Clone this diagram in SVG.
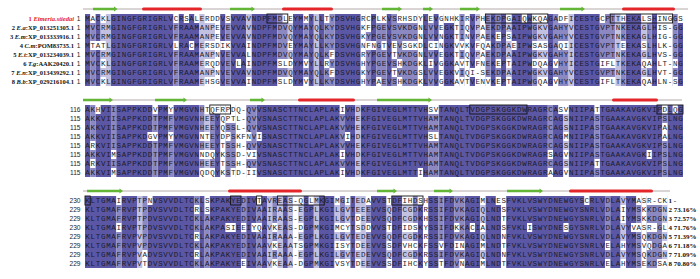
<svg xmlns="http://www.w3.org/2000/svg" width="700" height="279" viewBox="0 0 700 279">
<style>
.d{fill:#5b57a5}.m{fill:#8b88c2}.l{fill:#c3c1e1}.w{fill:#ffffff}
.s{font-family:"Liberation Mono","DejaVu Sans Mono",monospace;font-size:7.5px;letter-spacing:0.7px;fill:#1c1c2a}
.lab{font-family:"Liberation Serif","Times New Roman",serif;font-size:6.5px;font-weight:bold;fill:#111;text-anchor:end}
.red{fill:#e4201f}
.num{font-family:"Liberation Sans",Arial,sans-serif;font-size:6.6px;fill:#222;text-anchor:end}
.pct{font-family:"Liberation Serif","Times New Roman",serif;font-size:7px;font-weight:bold;fill:#111}
.rl{stroke:#b4a9a9;stroke-width:1}
.hx{stroke:#e4262b;stroke-width:3;stroke-linecap:round}
.st{fill:#62b535}
.bx{fill:none;stroke:#111;stroke-width:0.9}
</style>
<rect width="700" height="279" fill="#fff"/>

<g id="ss-rulers">
<line class="rl" x1="83" y1="9" x2="688" y2="9"/>
<path class="st" d="M93 7.8H114V6.6L117.5 9L114 11.4V10.2H93Z M230 7.8H251.5V6.6L255 9L251.5 11.4V10.2H230Z M382 7.8H398.5V6.6L402 9L398.5 11.4V10.2H382Z M423 7.8H429.5V6.6L433 9L429.5 11.4V10.2H423Z M460 7.8H476.5V6.6L480 9L476.5 11.4V10.2H460Z M560 7.8H581.5V6.6L585 9L581.5 11.4V10.2H560Z"/>
<line class="hx" x1="143.5" y1="9" x2="200.5" y2="9"/>
<line class="hx" x1="283.5" y1="9" x2="331.5" y2="9"/>
<line class="hx" x1="623.5" y1="9" x2="673.5" y2="9"/>

<line class="rl" x1="83" y1="100" x2="682" y2="100"/>
<path class="st" d="M83 98.8H109.5V97.6L113 100L109.5 102.4V101.2H83Z M155 98.8H183.5V97.6L187 100L183.5 102.4V101.2H155Z M250 98.8H261.5V97.6L265 100L261.5 102.4V101.2H250Z M377 98.8H428.5V97.6L432 100L428.5 102.4V101.2H377Z"/>
<line class="hx" x1="299.5" y1="100" x2="353.5" y2="100"/>
<line class="hx" x1="613.5" y1="100" x2="656.5" y2="100"/>

<line class="rl" x1="83" y1="191" x2="670" y2="191"/>
<path class="st" d="M87 189.8H119.5V188.6L123 191L119.5 193.4V192.2H87Z M377 189.8H393.5V188.6L397 191L393.5 193.4V192.2H377Z M434 189.8H449.5V188.6L453 191L449.5 193.4V192.2H434Z M507 189.8H539.5V188.6L543 191L539.5 193.4V192.2H507Z"/>
<line class="hx" x1="229.5" y1="191" x2="300.5" y2="191"/>
<line class="hx" x1="570.5" y1="191" x2="651.5" y2="191"/>
</g>

<g id="block1">
<g transform="translate(85,14) scale(5.2,9)">
<path class="d" d="M0 0h1v8h-1z M2 0h1v8h-1z M5 0h12v8h-12z M18 0h4v8h-4z M26 0h1v8h-1z M28 0h3v8h-3z M32 0h5v8h-5z M40 0h2v8h-2z M43 0h1v8h-1z M45 0h1v8h-1z M48 0h5v8h-5z M55 0h1v8h-1z M58 0h1v8h-1z M65 0h1v8h-1z M67 0h1v8h-1z M69 0h2v8h-2z M74 0h1v8h-1z M78 0h1v8h-1z M80 0h1v8h-1z M82 0h4v8h-4z M89 0h1v8h-1z M94 0h5v8h-5z M104 0h3v8h-3z M109 0h1v8h-1z M114 0h1v8h-1z"/>
<path class="m" d="M1 0h1v8h-1z M17 0h1v8h-1z M27 0h1v8h-1z M37 0h2v8h-2z M42 0h1v8h-1z M46 0h2v8h-2z M54 0h1v8h-1z M56 0h2v8h-2z M59 0h5v8h-5z M66 0h1v8h-1z M72 0h1v8h-1z M77 0h1v8h-1z M79 0h1v8h-1z M86 0h1v8h-1z M90 0h3v8h-3z M99 0h3v8h-3z M103 0h1v8h-1z M108 0h1v8h-1z M113 0h1v8h-1z"/>
<path class="l" d="M3 0h2v8h-2z M22 0h3v8h-3z M31 0h1v8h-1z M39 0h1v8h-1z M44 0h1v8h-1z M75 0h1v8h-1z M81 0h1v8h-1z M87 0h2v8h-2z M93 0h1v8h-1z M102 0h1v8h-1z M107 0h1v8h-1z"/>
<path class="w" d="M1 0h1v1h-1z M1 3h1v1h-1z M2 3h1v1h-1z M3 0h1v1h-1z M3 3h1v1h-1z M3 5h1v1h-1z M3 7h1v1h-1z M17 0h1v1h-1z M17 3h1v1h-1z M19 0h1v1h-1z M20 3h1v1h-1z M21 0h1v1h-1z M23 0h2v1h-2z M23 3h2v1h-2z M23 5h2v1h-2z M23 7h2v1h-2z M26 3h1v1h-1z M27 0h1v1h-1z M27 3h1v1h-1z M29 5h1v1h-1z M31 3h1v3h-1z M31 7h1v1h-1z M37 5h3v1h-3z M37 7h3v1h-3z M38 0h2v1h-2z M39 3h1v1h-1z M42 0h1v1h-1z M42 5h1v1h-1z M42 7h1v1h-1z M46 0h1v1h-1z M46 5h1v1h-1z M47 4h1v1h-1z M47 6h1v1h-1z M54 0h1v2h-1z M54 3h1v1h-1z M55 3h1v1h-1z M56 0h1v1h-1z M56 7h1v1h-1z M57 0h1v1h-1z M57 3h1v1h-1z M59 3h1v2h-1z M59 6h1v1h-1z M60 0h1v1h-1z M60 5h1v1h-1z M60 7h1v1h-1z M61 0h3v1h-3z M61 3h3v1h-3z M66 0h1v1h-1z M66 3h1v1h-1z M66 5h1v1h-1z M67 3h1v1h-1z M69 0h2v1h-2z M72 3h1v1h-1z M72 5h1v1h-1z M72 7h1v1h-1z M74 6h1v1h-1z M75 3h1v1h-1z M75 5h1v3h-1z M77 3h1v1h-1z M77 7h1v1h-1z M79 2h1v1h-1z M79 5h1v1h-1z M79 7h1v1h-1z M81 0h1v1h-1z M81 2h1v1h-1z M81 5h1v1h-1z M81 7h1v1h-1z M82 3h1v1h-1z M84 0h1v1h-1z M86 0h3v1h-3z M86 3h3v1h-3z M86 5h3v1h-3z M87 7h2v1h-2z M90 5h1v1h-1z M90 7h1v1h-1z M91 0h2v1h-2z M91 3h2v1h-2z M99 0h1v1h-1z M99 5h3v1h-3z M99 7h3v1h-3z M103 0h1v1h-1z M103 3h1v1h-1z M107 0h2v1h-2z M107 3h1v1h-1z M107 5h2v1h-2z M107 7h2v1h-2z M113 5h1v1h-1z M113 7h1v1h-1z M114 0h1v1h-1z"/>
</g>
<text class="s" x="85.35" y="21.2">MACKLGINGFGRIGRLVCRSALERDDVSVVAVNDPFMDLEYMMYLLTYDSVHGRCPLKVSRHSDYLEVGNHKIRVPHEKDPGAIQWKQAGADFICESTGCPTTHEKALSHINGGS</text>
<text class="s" x="85.35" y="30.2">MVCRMGINGFGRIGRLVFRAAMANPEVEVVAVNDPFMDVQYMAYQLKYDSVHGKFPGEVSVKDGNLVVEGKTIQVPAEKDPAAIPWGKVGAHYVCESTGVPTNKEKAGLHIS-GG</text>
<text class="s" x="85.35" y="39.2">MVCRMGINGFGRIGRLVFRAAMANPEVEVVAVNDPFMDVQYMAYQLKYDSVHGKYPGEVSVKDGNLVVNGKTINVPAEKEPSAIPWGKVGAHYVCESTGVPTNKEKAGLHIG-GG</text>
<text class="s" x="85.35" y="48.2">MTATLGINGFGRIGRLVLRACMERSDIKVVAINDPFMDVEYMAYLLKYDSVHGNFNGTVEVSGKDLCINGKVVKVFQAKDPAEIPWSASGAQIICESTGVPTTEEKASLHLK-GG</text>
<text class="s" x="85.35" y="57.2">MVCRMGINGFGRIGRLVFRAAMANPNVEVVALNDPFMDVQYMAYQLKFDSVHGRYPGEVTVKDGNLVVEGKTIQVPAEKDPAAIPWGKVGAHYICESTGVPTNKEKAGLHVS-GG</text>
<text class="s" x="85.35" y="66.2">MVCKLGINGFGRIGRLVFRAAMERQDVEVLAINDPFMSLDYMVYLLRYDSVHGHYPGEVSHKDGKLIVGGKAVTVFNEKEPTAIPWDQAGVHYICESTGIFLTKEKAQAHLT-NG</text>
<text class="s" x="85.35" y="75.2">MVCRMGINGFGRIGRLVFRAAMANPNVEVVAVNDPFMDVQYMAYQLKFDSVHGKYPGEVTVKDGSLVVEGKVIQI-SEKDPAAIPWGKVGAHYVCESTGVPTNKEKAGLHVT-GG</text>
<text class="s" x="85.35" y="84.2">MVCKLGINGFGRIGRLVFRAAMEHSGVEVVAINDPFMSLDYMVYLLKYDSVHGHYPAEVSHKDGKLVVGGKAVTVENVKEPTAIPWGQAGVHYVCESTGIFLTKEKAQAHLN-SG</text>
<rect class="bx" x="267" y="14" width="20.8" height="9"/>
<rect class="bx" x="485.4" y="14" width="62.4" height="9"/>
<rect class="bx" x="610.2" y="14" width="62.4" height="9"/>
<text class="lab red" x="74" y="20.8">1 <tspan font-style="italic">Eimeria.stiedai</tspan></text>
<text class="lab" x="74" y="29.8">2 <tspan font-style="italic">E.a</tspan>:XP_013251305.1</text>
<text class="lab" x="74" y="38.8">3 <tspan font-style="italic">E.m</tspan>:XP_013333916.1</text>
<text class="lab" x="74" y="47.8">4 <tspan font-style="italic">C.m</tspan>:POM83735.1</text>
<text class="lab" x="74" y="56.8">5 <tspan font-style="italic">E.t</tspan>:XP_013234039.1</text>
<text class="lab" x="74" y="65.8">6 <tspan font-style="italic">T.g</tspan>:AAK20420.1</text>
<text class="lab" x="74" y="74.8">7 <tspan font-style="italic">E.n</tspan>:XP_013439292.1</text>
<text class="lab" x="74" y="83.8">8 <tspan font-style="italic">B.b</tspan>:XP_029216104.1</text>
<text class="num" x="80.5" y="21">1</text><text class="num" x="80.5" y="30">1</text><text class="num" x="80.5" y="39">1</text><text class="num" x="80.5" y="48">1</text><text class="num" x="80.5" y="57">1</text><text class="num" x="80.5" y="66">1</text><text class="num" x="80.5" y="75">1</text><text class="num" x="80.5" y="84">1</text>
</g>

<g id="block2">
<g transform="translate(85,105) scale(5.2,9)">
<path class="d" d="M0 0h1v8h-1z M2 0h3v8h-3z M6 0h7v8h-7z M14 0h2v8h-2z M17 0h5v8h-5z M25 0h1v8h-1z M33 0h16v8h-16z M50 0h2v8h-2z M53 0h13v8h-13z M68 0h21v8h-21z M90 0h2v8h-2z M93 0h5v8h-5z M99 0h12v8h-12z M112 0h3v8h-3z"/>
<path class="m" d="M1 0h1v8h-1z M5 0h1v8h-1z M13 0h1v8h-1z M16 0h1v8h-1z M22 0h1v8h-1z M24 0h1v8h-1z M27 0h2v8h-2z M31 0h2v8h-2z M49 0h1v8h-1z M66 0h2v8h-2z M89 0h1v8h-1z M98 0h1v8h-1z M111 0h1v8h-1z"/>
<path class="l" d="M23 0h1v8h-1z M52 0h1v8h-1z M92 0h1v8h-1z"/>
<path class="w" d="M1 4h1v1h-1z M1 6h1v1h-1z M2 0h1v1h-1z M5 5h1v1h-1z M5 7h1v1h-1z M12 3h2v1h-2z M13 0h1v1h-1z M16 0h1v1h-1z M16 3h1v1h-1z M23 0h3v1h-3z M22 3h2v1h-2z M22 5h3v1h-3z M22 7h3v1h-3z M27 0h2v2h-2z M27 3h1v1h-1z M28 7h1v1h-1z M31 3h1v1h-1z M31 5h2v1h-2z M31 7h2v1h-2z M33 3h1v1h-1z M49 0h1v1h-1z M49 5h1v1h-1z M49 7h1v1h-1z M50 3h1v1h-1z M64 7h1v1h-1z M66 0h2v1h-2z M66 3h2v1h-2z M89 5h1v1h-1z M89 7h1v1h-1z M91 0h2v1h-2z M92 3h1v1h-1z M92 5h1v1h-1z M92 7h1v1h-1z M98 0h1v1h-1z M98 6h1v1h-1z M108 5h1v1h-1z M111 0h1v1h-1z M111 2h1v2h-1z M113 0h1v1h-1z"/>
</g>
<text class="s" x="85.35" y="112.2">AKHVIISAPPKDDVPMYVMGVNHTQFRPDQ-QVVSNASCTTNCLAPLAKIVHDKFGIVEGLMTTVHSVTANQLTVDGPSKGGKDWRAGRCASVNIIPATTGAAKAVGKVIPDLQG</text>
<text class="s" x="85.35" y="121.2">AKKVIISAPPKDDTPMFVMGVNHEEYQPTL-QVVSNASCTTNCLAPLAKVVHEKFGIVEGLMTTVHAMTANQLTVDGPSKGGKDWRAGRCAGSNIIPASTGAAKAVGKVIPSLNG</text>
<text class="s" x="85.35" y="130.2">AKKVIISAPPKDDTPMFVMGVNHEEYQSSL-QVVSNASCTTNCLAPLAKVVHEKFGIVEGLMTTVHAMTANQLTVDGPSKGGKDWRAGRCAGSNIIPASTGAAKAVGKVIPALNG</text>
<text class="s" x="85.35" y="139.2">AKKVIISAPPKDGVPMYVMGVNNTEYDPSKFNVISNASCTTNCLAPLAKVIHDKFGIVEGLMTTVHSLTANQLTVDGPSKGGKDWRAGRCAGMNIIPASTGAAKAVGKVIPALNG</text>
<text class="s" x="85.35" y="148.2">ARKVIISAPPKDDTPMFVMGVNHEEYTSSH-QVVSNASCTTNCLAPLAKVVHEKFGIVEGLMTTVHAMTANQLTVDGPSKGGKDWRAGRCAGSNIIPASTGAAKAVGKVIPSLNG</text>
<text class="s" x="85.35" y="157.2">AKKVIMSAPPKDDTPMFVMGVNNDQYKSSD-VIVSNASCTTNCLAPLAKIVHDKFGIVEGLMTTVHAMTANQLTVDGPSKGGKDWRAGRSAGVNIIPASTGAAKAVGKIIPSLNG</text>
<text class="s" x="85.35" y="166.2">ARKVIISAPPKDDTPMFVMGVNHEEYTSSH-QVVSNASCTTNCLAPLAKVVHEKFGIVEGLMTTVHAMTANQLTVDGPSKGGKDWRAGRCAGSNIIPATTGAAKAVGKVIPSLNG</text>
<text class="s" x="85.35" y="175.2">AKKVIMSAPPKDDTPMFVMGVNQDQYKSTD-IIVSNASCTTNCLAPLAKIVHDKFGIVEGLMTTIHAMTANQLTVDGPSKGGKDWRAGRAAGVNIIPASTGAAKAVGKVIPSLNG</text>
<rect class="bx" x="209.8" y="105" width="20.8" height="9"/>
<rect class="bx" x="469.8" y="105" width="57.2" height="9"/>
<rect class="bx" x="657" y="105" width="26" height="9"/>
<text class="num" x="80.5" y="112">116</text><text class="num" x="80.5" y="121">115</text><text class="num" x="80.5" y="130">115</text><text class="num" x="80.5" y="139">115</text><text class="num" x="80.5" y="148">115</text><text class="num" x="80.5" y="157">115</text><text class="num" x="80.5" y="166">115</text><text class="num" x="80.5" y="175">115</text>
</g>

<g id="block3">
<g transform="translate(85,196) scale(5.2,9)">
<path class="d" d="M0 0h6v8h-6z M7 0h3v8h-3z M12 0h9v8h-9z M22 0h1v8h-1z M24 0h6v8h-6z M31 0h2v8h-2z M34 0h1v8h-1z M38 0h1v8h-1z M42 0h2v8h-2z M45 0h3v8h-3z M51 0h1v8h-1z M55 0h3v8h-3z M59 0h2v8h-2z M64 0h1v8h-1z M66 0h2v8h-2z M69 0h2v8h-2z M73 0h3v8h-3z M77 0h3v8h-3z M81 0h19v8h-19z M101 0h2v8h-2z M104 0h2v8h-2z"/>
<path class="m" d="M6 0h1v8h-1z M11 0h1v8h-1z M21 0h1v8h-1z M23 0h1v8h-1z M30 0h1v8h-1z M33 0h1v8h-1z M36 0h1v8h-1z M49 0h1v8h-1z M54 0h1v8h-1z M63 0h1v8h-1z M68 0h1v8h-1z M71 0h2v8h-2z M100 0h1v8h-1z M106 0h1v8h-1z M108 0h3v8h-3z"/>
<path class="l" d="M10 0h1v8h-1z M35 0h1v8h-1z M37 0h1v8h-1z M39 0h1v8h-1z M41 0h1v8h-1z M44 0h1v8h-1z M48 0h1v8h-1z M50 0h1v8h-1z M52 0h2v8h-2z M58 0h1v8h-1z M61 0h2v8h-2z M76 0h1v8h-1z M103 0h1v8h-1z M111 0h1v8h-1z"/>
<path class="w" d="M6 0h1v1h-1z M6 3h1v1h-1z M11 6h1v2h-1z M12 0h1v1h-1z M21 1h1v1h-1z M21 4h1v1h-1z M21 6h1v1h-1z M23 0h1v2h-1z M27 3h2v1h-2z M30 3h1v1h-1z M30 7h1v1h-1z M32 3h2v1h-2z M33 0h1v1h-1z M36 3h1v1h-1z M36 5h1v1h-1z M36 7h1v1h-1z M41 0h1v1h-1z M41 3h1v1h-1z M41 5h1v1h-1z M41 7h1v1h-1z M43 0h1v1h-1z M48 0h1v1h-1z M50 0h1v1h-1z M48 3h3v1h-3z M48 5h3v1h-3z M48 7h3v1h-3z M52 2h1v2h-1z M52 5h1v1h-1z M52 7h1v1h-1z M54 0h1v1h-1z M54 3h1v1h-1z M58 0h1v1h-1z M58 3h1v1h-1z M58 5h1v1h-1z M58 7h1v1h-1z M61 0h2v1h-2z M64 0h1v1h-1z M61 3h3v1h-3z M61 5h3v1h-3z M61 7h3v1h-3z M68 5h1v1h-1z M68 7h1v1h-1z M71 3h1v1h-1z M71 5h2v1h-2z M72 7h1v1h-1z M74 3h1v1h-1z M76 0h1v1h-1z M76 3h1v1h-1z M76 5h1v1h-1z M76 7h1v1h-1z M79 0h1v1h-1z M85 3h1v1h-1z M92 3h1v1h-1z M96 0h1v1h-1z M100 5h1v1h-1z M100 7h1v1h-1z M103 1h1v2h-1z M103 5h1v1h-1z M103 7h1v1h-1z M105 3h2v1h-2z M106 0h1v1h-1z M108 0h4v1h-4z M108 3h2v1h-2z M111 3h1v1h-1z M108 5h1v1h-1z M111 5h1v1h-1z M110 7h2v1h-2z"/>
</g>
<text class="s" x="85.35" y="203.2">KLTGMAIRVPTPNVSVVDLTCKLSKPAKYEDIVTAVREAS-QGLMKGIMGITEDAVVSTDFIHDSHSSIFDVKAGIMLNESFVKLVSWYDNEWGYSCRLVDLAVYMASR-CK</text>
<text class="s" x="85.35" y="212.2">KLTGMAFRVPTPDVSVVDLTCRLSKPAKYEDIVAAIRAAS-EGPLKGILGVTEEEVVSQDFCGDKRSSIFDVKAGIQLNDSFVKLVSWYDNEWGYSNRLVDLAIYMSKKDGN</text>
<text class="s" x="85.35" y="221.2">KLTGMAFRVPTPDVSVVDLTCKLAKPAKYEDIVAAIRAAS-EGPLKGILGVTDEEVVSQDFCGDKHSSIFDVKAGIQLNDTFVKLVSWYDNEWGYSNRLVDLAIYMSKKDGN</text>
<text class="s" x="85.35" y="230.2">KLTGMAIRVPTPDVSVVDLTCKLAKPASIEEIYQAVKEAS-DGPMKGIMCYTSDDVVSTDFIDSKYSSIFDKKACIALNDSFVKLISWYDNESGYSNRLVDLAVYVASR-GL</text>
<text class="s" x="85.35" y="239.2">KLTGMAFRVPVPDVSVVDLTCRLAKPAKYEDIVAAIRAAA-EGPLKGILGVTEDEVVSQDFCGDKRSSIFDVKAGIQLNDNFVKLVSWYDNEWGYSNRLVDLAVYMSQKDGN</text>
<text class="s" x="85.35" y="248.2">KLTGMAFRVPVPDVSVVDLTCKLAKPAKYEDIVAAVKEAATSGPMKGIISYTDEEVVSSDFVHCKFSSVFDINAGIMLNDTFVKLVSWYDNEWGYSNRLVELAHYMSVQDGA</text>
<text class="s" x="85.35" y="257.2">KLTGMAFRVPVADVSVVDLTCRLAKPAKYEDIVAAIRAAA-EGPLKGILGVTEDEVVSQDFCGDKRSSIFDVKAGIQLNDNFVKLVSWYDNEWGYSNRLVDLAVYMSQKDGN</text>
<text class="s" x="85.35" y="266.2">KLTGMAFRVPVTDVSVVDLTCKLAKPAKYEEIVAAVKEAA-DGPMKGIVSYTDEEVVSSDFIHCKYSSTFDVNAGIMLNDTFVKLVSWYDNEWGYSNRLVELAHYMSEKDSA</text>
<rect class="bx" x="85" y="196" width="5.2" height="9"/>
<rect class="bx" x="230.6" y="196" width="10.4" height="9"/>
<rect class="bx" x="256.6" y="196" width="5.2" height="9"/>
<rect class="bx" x="277.4" y="196" width="46.8" height="9"/>
<rect class="bx" x="391.8" y="196" width="31.2" height="9"/>
<text class="num" x="80.5" y="203">230</text><text class="num" x="80.5" y="212">229</text><text class="num" x="80.5" y="221">229</text><text class="num" x="80.5" y="230">230</text><text class="num" x="80.5" y="239">229</text><text class="num" x="80.5" y="248">229</text><text class="num" x="80.5" y="257">229</text><text class="num" x="80.5" y="266">229</text>
<text class="pct red" x="668.5" y="203">1 -</text>
<text class="pct" x="668.5" y="212">2 73.16%</text>
<text class="pct" x="668.5" y="221">3 72.57%</text>
<text class="pct" x="668.5" y="230">4 71.76%</text>
<text class="pct" x="668.5" y="239">5 71.39%</text>
<text class="pct" x="668.5" y="248">6 71.18%</text>
<text class="pct" x="668.5" y="257">7 71.09%</text>
<text class="pct" x="668.5" y="266">8 70.80%</text>
</g>
</svg>
